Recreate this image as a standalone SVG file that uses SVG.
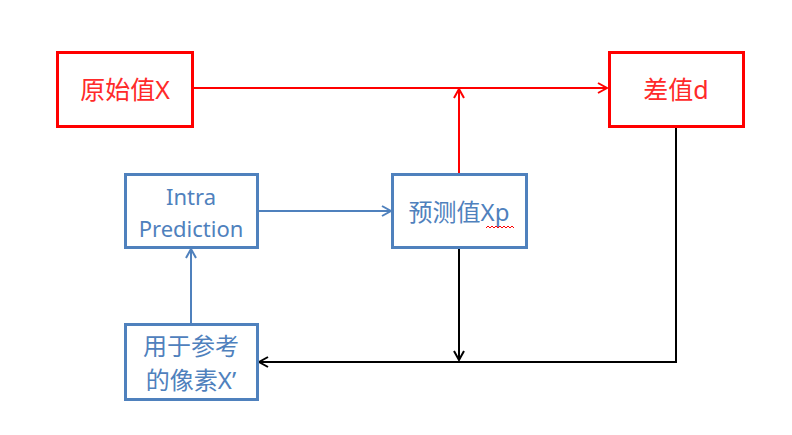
<svg xmlns="http://www.w3.org/2000/svg" width="792" height="435" viewBox="0 0 792 435">
<style>
.red{fill:#fff;stroke:#ff0000;stroke-width:3}
.blue{fill:#fff;stroke:#4f81bd;stroke-width:3}
text{font-family:"Noto Sans","Noto Sans CJK SC",sans-serif;text-anchor:middle;dominant-baseline:central}
.tr{fill:#ff2a2a;font-size:25px}
.tb{fill:#4f81bd;font-size:24px}
.lr{stroke:#ff0000;stroke-width:2;fill:none}
.lb{stroke:#4f81bd;stroke-width:2;fill:none}
.lk{stroke:#000;stroke-width:2;fill:none}
</style>
<defs>
<marker id="ar" markerWidth="12" markerHeight="12" refX="10" refY="6" orient="auto" markerUnits="userSpaceOnUse"><path d="M1,1 L10,6 L1,11" fill="none" stroke="#ff0000" stroke-width="2"/></marker>
<marker id="ab" markerWidth="12" markerHeight="12" refX="10" refY="6" orient="auto" markerUnits="userSpaceOnUse"><path d="M1,1 L10,6 L1,11" fill="none" stroke="#4f81bd" stroke-width="2"/></marker>
<marker id="ak" markerWidth="12" markerHeight="12" refX="10" refY="6" orient="auto" markerUnits="userSpaceOnUse"><path d="M1,1 L10,6 L1,11" fill="none" stroke="#000" stroke-width="2"/></marker>
</defs>
<rect width="792" height="435" fill="#fff"/>
<g id="connectors">
<path class="lr" d="M193,88 H607" marker-end="url(#ar)"/>
<path class="lr" d="M459,174 V89" marker-end="url(#ar)"/>
<path class="lb" d="M258,211 H391" marker-end="url(#ab)"/>
<path class="lb" d="M191,324 V249" marker-end="url(#ab)"/>
<path class="lk" d="M459,248 V360" marker-end="url(#ak)"/>
<path class="lk" d="M676,127 V362 H259" marker-end="url(#ak)"/>
</g>
<g id="orig">
<rect class="red" x="57.5" y="52.5" width="135" height="74"/>
<text class="tr" x="125" y="89">原始值X</text>
</g>
<g id="diff">
<rect class="red" x="609.5" y="52.5" width="134" height="74"/>
<text class="tr" x="676" y="89">差值d</text>
</g>
<g id="pred">
<rect class="blue" x="392.5" y="174.5" width="134" height="73"/>
<text class="tb" x="459" y="211">预测值Xp</text>
<path d="M486,228 l2,-2 l2,2 l2,-2 l2,2 l2,-2 l2,2 l2,-2 l2,2 l2,-2 l2,2 l2,-2 l2,2 l2,-2 l2,2" fill="none" stroke="#ff0000" stroke-width="1"/>
</g>
<g id="intra">
<rect class="blue" x="125.5" y="174.5" width="132" height="73"/>
<text class="tb" x="191" y="196" style="font-size:22px">Intra</text>
<text class="tb" x="191" y="228" style="font-size:22px">Prediction</text>
</g>
<g id="ref">
<rect class="blue" x="125.5" y="324.5" width="132" height="75"/>
<text class="tb" x="191" y="345">用于参考</text>
<text class="tb" x="191" y="379">的像素X’</text>
</g>
</svg>
